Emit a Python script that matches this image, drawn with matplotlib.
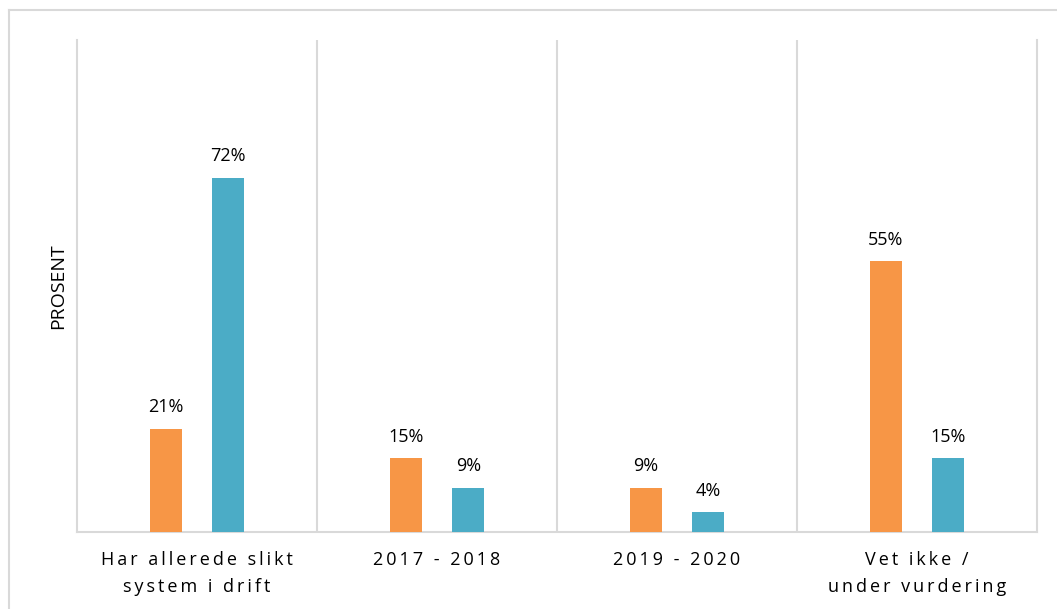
import matplotlib.pyplot as plt
from matplotlib.lines import Line2D

categories = ["Har allerede slikt\nsystem i drift", "2017 - 2018", "2019 - 2020", "Vet ikke /\nunder vurdering"]
orange_vals = [21, 15, 9, 55]
blue_vals = [72, 9, 4, 15]

orange = "#F79646"
blue = "#4BACC6"
grid = "#D9D9D9"
fam = ["Open Sans", "DejaVu Sans"]


def spaced(s):
    # wide letter spacing like the original axis labels
    return "\n".join("\u2009".join(line) for line in s.split("\n"))


fig = plt.figure(figsize=(10.57, 6.09), dpi=100)
ax = fig.add_axes([77 / 1057, 1 - 532 / 609, 960 / 1057, 492 / 609])

x = list(range(len(categories)))
w = 0.133
off = 0.13
b1 = ax.bar([i - off for i in x], orange_vals, w, color=orange, zorder=3)
b2 = ax.bar([i + off for i in x], blue_vals, w, color=blue, zorder=3)

for bars, vals in [(b1, orange_vals), (b2, blue_vals)]:
    for r, v in zip(bars, vals):
        ax.annotate(f"{v}%", (r.get_x() + r.get_width() / 2, r.get_height()),
                    xytext=(0, 9), textcoords="offset points", ha="center", va="bottom",
                    fontsize=13, family=fam, color="#000000")

ax.set_xlim(-0.5, 3.5)
ax.set_ylim(0, 100)
for g in [0.5, 1.5, 2.5]:
    ax.axvline(g, color=grid, lw=1.5, zorder=1)

ax.spines["top"].set_visible(False)
for s in ["left", "right", "bottom"]:
    ax.spines[s].set_color(grid)
    ax.spines[s].set_linewidth(1.5)

ax.set_yticks([])
ax.set_xticks(x)
ax.set_xticklabels([spaced(c) for c in categories], family=fam, fontsize=13, linespacing=1.6)
ax.tick_params(axis="x", length=0, pad=14)
ax.set_ylabel("PROSENT", family=fam, fontsize=14, labelpad=7)

fig.add_artist(Line2D([9 / 1057, 1], [1 - 10 / 609, 1 - 10 / 609], color=grid, lw=1.5, transform=fig.transFigure))
fig.add_artist(Line2D([9 / 1057, 9 / 1057], [0, 1 - 10 / 609], color=grid, lw=1.5, transform=fig.transFigure))

fig.savefig("out.png", dpi=100)
